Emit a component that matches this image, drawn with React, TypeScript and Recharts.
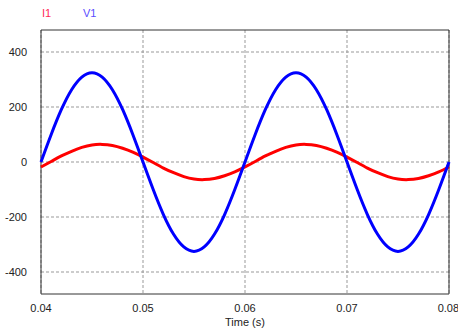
import React from 'react';
import { LineChart, Line, XAxis, YAxis, CartesianGrid, ReferenceArea } from 'recharts';

const time = [
  0.04, 0.041, 0.042, 0.043, 0.044, 0.045, 0.046, 0.047, 0.048, 0.049,
  0.05, 0.051, 0.052, 0.053, 0.054, 0.055, 0.056, 0.057, 0.058, 0.059,
  0.06, 0.061, 0.062, 0.063, 0.064, 0.065, 0.066, 0.067, 0.068, 0.069,
  0.07, 0.071, 0.072, 0.073, 0.074, 0.075, 0.076, 0.077, 0.078, 0.079,
  0.08,
];

const v1 = [
  0, 100, 191, 263, 309, 325, 309, 263, 191, 100,
  0, -100, -191, -263, -309, -325, -309, -263, -191, -100,
  0, 100, 191, 263, 309, 325, 309, 263, 191, 100,
  0, -100, -191, -263, -309, -325, -309, -263, -191, -100,
  0,
];

const i1 = [
  -18, 2, 22, 39, 53, 62, 64, 60, 50, 36,
  18, -2, -22, -39, -53, -62, -64, -60, -50, -36,
  -18, 2, 22, 39, 53, 62, 64, 60, 50, 36,
  18, -2, -22, -39, -53, -62, -64, -60, -50, -36,
  -18,
];

const xTicks = [0.04, 0.05, 0.06, 0.07, 0.08];
const yTicks = [-400, -200, 0, 200, 400];

const data = time.map((t, i) => ({ t, I1: i1[i], V1: v1[i] }));

const FONT = '"Liberation Sans", Arial, sans-serif';
const tickStyle = { fontSize: 11, fill: '#222', fontFamily: FONT };

export default function App() {
  return (
    <div style={{ position: 'absolute', left: 0, top: 0, width: 458, height: 329, background: '#fff', overflow: 'hidden' }}>
      <div style={{ position: 'absolute', left: 42, top: 7, fontFamily: FONT, fontSize: 11, color: '#ff2a55' }}>I1</div>
      <div style={{ position: 'absolute', left: 83, top: 7, fontFamily: FONT, fontSize: 11, color: '#5a4dff' }}>V1</div>
      <LineChart width={458} height={329} data={data} margin={{ top: 30, right: 9, left: 0, bottom: 0 }}>
        <CartesianGrid stroke="#999" strokeDasharray="3 2" horizontalValues={yTicks} verticalValues={xTicks} />
        <ReferenceArea x1={0.04} x2={0.08} y1={-480} y2={480} fill="none" stroke="#333" strokeWidth={1} ifOverflow="extendDomain" />
        <XAxis
          dataKey="t"
          type="number"
          domain={[0.04, 0.08]}
          ticks={xTicks}
          tickFormatter={(v: number) => v.toFixed(2)}
          tickLine={false}
          axisLine={false}
          tickSize={0}
          tickMargin={10}
          height={35}
          tick={tickStyle}
          label={{ value: 'Time (s)', position: 'insideBottom', offset: 3, style: { fontSize: 11, fill: '#222', fontFamily: FONT } }}
        />
        <YAxis
          type="number"
          domain={[-480, 480]}
          ticks={yTicks}
          tickLine={false}
          axisLine={false}
          tickSize={0}
          tickMargin={14}
          width={41}
          tick={tickStyle}
        />
        <Line type="natural" dataKey="I1" stroke="#ff0000" strokeWidth={3} dot={false} isAnimationActive={false} />
        <Line type="natural" dataKey="V1" stroke="#0000ff" strokeWidth={3} dot={false} isAnimationActive={false} />
      </LineChart>
    </div>
  );
}
